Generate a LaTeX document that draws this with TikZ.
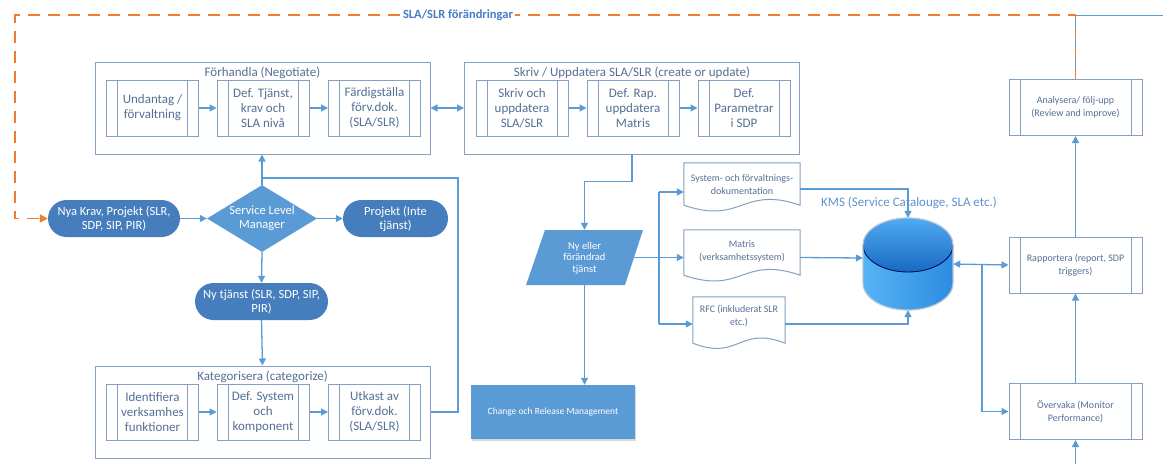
\documentclass[tikz,border=0pt]{standalone}
\usepackage{fontspec}
\setmainfont{Carlito}
\usetikzlibrary{arrows.meta,shapes.geometric,shadows,calc}
\definecolor{linec}{RGB}{91,155,213}
\definecolor{boxc}{RGB}{132,160,196}
\definecolor{txtc}{RGB}{84,112,150}
\definecolor{pillc}{RGB}{70,126,189}
\definecolor{fillc}{RGB}{91,155,213}
\definecolor{orng}{RGB}{237,125,49}
\definecolor{lblc}{RGB}{70,125,195}
\definecolor{kmsc}{RGB}{95,145,205}
\definecolor{dbL}{RGB}{85,180,245}
\definecolor{dbR}{RGB}{45,140,225}
\definecolor{dbT}{RGB}{80,170,240}
\definecolor{dbB}{RGB}{25,105,195}
\definecolor{dbO}{RGB}{175,195,215}
\begin{document}
\begin{tikzpicture}[x=1pt,y=-1pt,
  line/.style={draw=linec, line width=1.3pt},
  arr/.style={line, -{Triangle[length=7pt,width=7pt]}},
  darr/.style={line, {Triangle[length=7pt,width=7pt]}-{Triangle[length=7pt,width=7pt]}},
  grp/.style={draw=boxc, line width=1pt, minimum width=335pt, minimum height=92pt, inner sep=0pt},
  grptitle/.style={font=\fontsize{13}{15}\selectfont, text=txtc, inner sep=0pt},
  subbars/.style={path picture={
      \draw[boxc, line width=1pt] ([xshift=11pt]path picture bounding box.north west) -- ([xshift=11pt]path picture bounding box.south west);
      \draw[boxc, line width=1pt] ([xshift=-11pt]path picture bounding box.north east) -- ([xshift=-11pt]path picture bounding box.south east);}},
  sub/.style={subbars, draw=boxc, line width=1pt, fill=white, minimum width=92pt, minimum height=56pt, inner sep=0pt, align=center, text=txtc, font=\fontsize{13}{15}\selectfont},
  rsub/.style={subbars, draw=boxc, line width=1pt, fill=white, minimum width=133pt, minimum height=56pt, inner sep=0pt, align=center, text=txtc, font=\fontsize{10}{13}\selectfont},
  pill/.style={rectangle, rounded corners=18.5pt, fill=pillc, minimum height=37pt, inner sep=0pt, align=center, text=white, font=\fontsize{12.5}{14}\selectfont},
  doctext/.style={minimum width=116pt, inner sep=0pt, align=center, text=txtc, font=\fontsize{10}{13}\selectfont},
  docline/.style={draw=boxc, line width=1pt, fill=white}
]
\useasboundingbox (0,0) rectangle (1163,464);
\fill[white] (0,0) rectangle (1163,464);

% ---------- Förhandla ----------
\node[grp] (neg) at (262.5,108) {};
\node[grptitle] (negt) at (262.5,73) {Förhandla (Negotiate)};
\node[sub] (n1) at (152.5,108) {Undantag /\\förvaltning};
\node[sub] (n2) at (263,108) {Def. Tjänst,\\krav och\\SLA nivå};
\node[sub] (n3) at (374.5,108) {Färdigställa\\förv.dok.\\(SLA/SLR)};
\draw[arr] (n1) -- (n2);
\draw[arr] (n2) -- (n3);

% ---------- Skriv ----------
\node[grp] (skr) at (632,108) {};
\node[grptitle] (skrt) at (632,73) {Skriv / Uppdatera SLA/SLR (create or update)};
\node[sub] (s1) at (522,108) {Skriv och\\uppdatera\\SLA/SLR};
\node[sub] (s2) at (633,108) {Def. Rap.\\uppdatera\\Matris};
\node[sub] (s3) at (744,108) {Def.\\Parametrar\\i SDP};
\draw[arr] (s1) -- (s2);
\draw[arr] (s2) -- (s3);
\draw[darr] (neg.east) -- (skr.west);

% ---------- Kategorisera ----------
\node[grp] (kat) at (262.5,412) {};
\node[grptitle] (katt) at (262.5,377) {Kategorisera (categorize)};
\node[sub] (k1) at (152.5,412) {Identifiera\\verksamhes\\funktioner};
\node[sub] (k2) at (263,412) {Def. System\\och\\komponent};
\node[sub] (k3) at (374.5,412) {Utkast av\\förv.dok.\\(SLA/SLR)};
\draw[arr] (k1) -- (k2);
\draw[arr] (k2) -- (k3);

% ---------- decision area ----------
\node[pill, minimum width=132pt] (nya) at (114,218.5) {Nya Krav, Projekt (SLR,\\SDP, SIP, PIR)};
\node[diamond, fill=fillc, minimum width=110pt, minimum height=67pt, inner sep=0pt] (slm) at (262,218.5) {};
\node[align=center, text=white, inner sep=0pt, font=\fontsize{12.5}{14}\selectfont] (slmt) at (262,218.5) {Service Level\\Manager};
\node[pill, minimum width=105pt] (proj) at (395.5,218.5) {Projekt (Inte\\tjänst)};
\node[pill, minimum width=133pt] (nyt) at (261.5,301.5) {Ny tjänst (SLR, SDP, SIP,\\PIR)};
\draw[arr] (nya) -- (slm);
\draw[arr] (slm) -- (proj);
\draw[arr] (slm.south) -- (nyt.north);
\draw[arr] (nyt.south) -- (kat.north);
\draw[arr] (slm.north) -- (slm.north |- neg.south);
\coordinate (kr) at (458,178);
\coordinate (kj) at (262,178);
\draw[line] (kat.east) -| (kr) -- (kj);

% ---------- SLA/SLR changes loop ----------
\node[rsub] (ana) at (1075.5,107.5) {Analysera/ följ-upp\\(Review and improve)};
\node[rsub] (rap) at (1075.5,265) {Rapportera (report, SDP\\triggers)};
\node[rsub] (ovr) at (1075.5,411.5) {Övervaka (Monitor\\Performance)};
\coordinate (tr) at (1075.5,15);
\coordinate (te) at (1163,15);
\coordinate (tl) at (15,15);
\coordinate (bot) at (1075.5,464);
\draw[line, line width=1pt] (ana.north) -- (tr) -- (te);
\draw[draw=orng, line width=1.8pt, dash pattern=on 12pt off 8pt, -{Triangle[length=8pt,width=8pt]}] (ana.north) -- (tr) -- (tl) |- (nya.west);
\node[fill=white, inner sep=2pt, text=lblc, font=\bfseries\fontsize{12.5}{14}\selectfont] (lbl) at (458,15) {SLA/SLR förändringar};
\draw[arr] (rap.north) -- (ana.south);
\draw[arr] (ovr.north) -- (rap.south);
\draw[arr] (bot) -- (ovr.south);

% ---------- new/changed service ----------
\fill[fillc] (526,285) -- (545,230) -- (643,230) -- (625,285) -- cycle;
\node[minimum width=117pt, minimum height=55pt, inner sep=0pt] (par) at (584.5,257.5) {};
\node[align=center, text=white, inner sep=0pt, font=\fontsize{10.5}{11.5}\selectfont] (part) at (584.5,258) {Ny eller\\förändrad\\tjänst};
\coordinate (pe) at (634,257.5);
\draw[arr] (skr.south) -- ++(0,27) -| (par.north);
\node[fill=fillc, minimum width=164pt, minimum height=54pt, text=white, font=\fontsize{9.5}{12}\selectfont, drop shadow={opacity=0.3, shadow xshift=1pt, shadow yshift=-2pt}] (chg) at (553,412) {Change och Release Management};
\draw[arr] (par.south) -- (par.south |- chg.north);

% ---------- documents ----------
\node[doctext, minimum height=42pt] (sys) at (742,184) {};
\draw[docline] (sys.south west) -- (sys.north west) -- (sys.north east) -- (sys.south east) .. controls ($(sys.south)+(0,-20)$) and ($(sys.south)+(0,20)$) .. (sys.south west);
\node[doctext] (syst) at (742,184.5) {System- och förvaltnings-\\dokumentation};

\node[doctext, minimum height=45pt] (mat) at (742,252.5) {};
\draw[docline] (mat.south west) -- (mat.north west) -- (mat.north east) -- (mat.south east) .. controls ($(mat.south)+(0,-20)$) and ($(mat.south)+(0,20)$) .. (mat.south west);
\node[doctext] (matt) at (742,251) {Matris\\(verksamhetssystem)};

\node[doctext, minimum width=92pt, minimum height=46pt] (rfc) at (739,320) {};
\draw[docline] (rfc.south west) -- (rfc.north west) -- (rfc.north east) -- (rfc.south east) .. controls ($(rfc.south)+(0,-18)$) and ($(rfc.south)+(0,18)$) .. (rfc.south west);
\node[doctext, minimum width=92pt] (rfct) at (739,316) {RFC (inkluderat SLR\\etc.)};

\coordinate (b1) at (659,192);
\coordinate (b2) at (659,324);
\draw[line] (b1) -- (b2);
\draw[arr] (b1) -- (b1 -| sys.west);
\draw[arr] (b2) -- (b2 -| rfc.west);
\draw[arr] (pe) -- (pe -| mat.west);

% ---------- database ----------
\node[minimum width=90pt, minimum height=92pt, inner sep=0pt] (db) at (908,264) {};
\shade[left color=dbL, right color=dbR] (863,245) -- (863,283) arc[start angle=180, end angle=0, x radius=45, y radius=27] -- (953,245) -- cycle;
\shade[top color=dbT, bottom color=dbB] (908,245) ellipse [x radius=45, y radius=27];
\draw[black!70!blue, line width=0.8pt] (863,245) arc[start angle=180, end angle=0, x radius=45, y radius=27];
\draw[dbO, line width=1.2pt] (863,283) -- (863,245) arc[start angle=180, end angle=360, x radius=45, y radius=27] -- (953,283) arc[start angle=0, end angle=180, x radius=45, y radius=27];
\node[text=kmsc, inner sep=0pt, font=\fontsize{13}{15}\selectfont] (kms) at (909,203) {KMS (Service Catalouge, SLA etc.)};

\draw[arr] ($(sys.east)+(0,5)$) -| (db.north);
\draw[arr] ($(mat.east)+(0,5)$) -- ($(db.west)+(0,-6)$);
\draw[arr] ($(rfc.east)+(0,4)$) -| (db.south);
\draw[darr] (db.east) -- (rap.west);
\coordinate (m1) at (982,264);
\draw[arr] (m1) |- (ovr.west);
\end{tikzpicture}
\end{document}
